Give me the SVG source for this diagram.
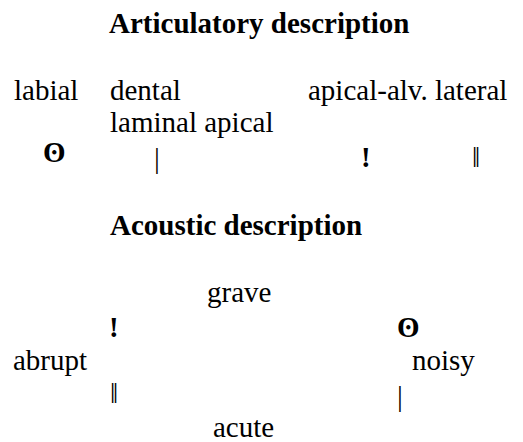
<svg xmlns="http://www.w3.org/2000/svg" width="523" height="442" viewBox="0 0 523 442">
<style>
text{font-family:"Liberation Serif","Times New Roman",serif;font-size:29px;fill:#000}
.h{font-weight:bold}
.b{font-weight:bold}
</style>
<rect width="523" height="442" fill="#fff"/>
<g id="title-articulatory"><text class="h" x="109" y="33">Articulatory description</text></g>
<g id="labial"><text x="14" y="100">labial</text></g>
<g id="dental"><text x="110" y="100">dental</text></g>
<g id="apical-alv"><text x="308" y="100">apical-alv. lateral</text></g>
<g id="laminal"><text x="110" y="132">laminal apical</text></g>
<g id="click-labial"><text class="b" x="43" y="162">ʘ</text></g>
<g id="click-dental"><text x="154" y="168">|</text></g>
<g id="click-alveolar"><text class="b" x="361" y="167">!</text></g>
<g id="click-lateral"><text x="472" y="167">ǁ</text></g>
<g id="title-acoustic"><text class="h" x="110" y="235">Acoustic description</text></g>
<g id="grave"><text x="207" y="302">grave</text></g>
<g id="acute"><text x="213" y="437">acute</text></g>
<g id="abrupt"><text x="13" y="370">abrupt</text></g>
<g id="noisy"><text x="412" y="370">noisy</text></g>
<g id="a-alveolar"><text class="b" x="109" y="337">!</text></g>
<g id="a-labial"><text class="b" x="397" y="337">ʘ</text></g>
<g id="a-lateral"><text x="110" y="403">ǁ</text></g>
<g id="a-dental"><text x="397" y="406">|</text></g>
<g id="connectors"></g>
</svg>
